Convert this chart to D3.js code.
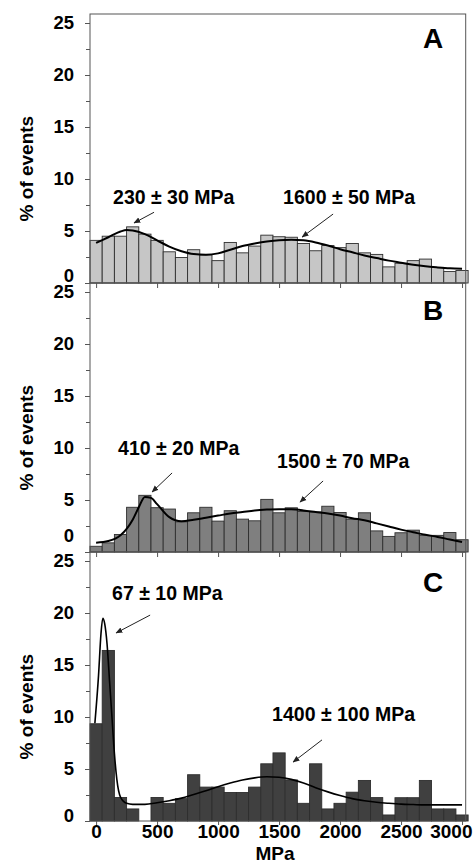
<!DOCTYPE html>
<html>
<head>
<meta charset="utf-8">
<script src="https://d3js.org/d3.v7.min.js"></script>
<style>
  body { margin: 0; background: #fff; }
  svg text { font-family: "Liberation Sans", Arial, sans-serif; font-weight: bold; fill: #000; }
</style>
</head>
<body>
<script>
// bin centres (MPa), one bar per 100 MPa
var binCenters = [0,100,200,300,400,500,600,700,800,900,1000,1100,1200,1300,1400,1500,
                  1600,1700,1800,1900,2000,2100,2200,2300,2400,2500,2600,2700,2800,2900,3000];

// % of events
var barsA = [4.1,4.5,4.5,5.4,4.7,4.1,3.0,2.45,3.2,2.7,2.15,3.9,2.9,3.55,4.6,4.45,
             4.4,3.8,3.1,3.6,3.4,3.8,2.9,2.75,1.55,1.9,2.15,2.3,1.5,1.1,1.2];
var barsB = [0.55,0.88,1.68,4.3,5.45,4.26,4.13,2.9,3.77,4.3,2.97,3.97,3.16,3.0,5.06,3.77,
             4.25,3.9,3.85,4.4,3.8,3.15,3.77,2.03,1.5,1.85,2.1,1.6,1.6,1.87,1.18];
var barsC = [9.35,16.4,2.26,1.16,0,2.26,1.7,2.15,4.45,3.26,3.26,2.74,2.74,3.26,5.5,6.55,
             3.95,1.7,5.5,1.16,1.7,2.77,3.9,2.25,0.58,2.24,2.24,3.9,1.16,1.16,0.58];

// fitted curves
var fitAx = [0,100,200,250,300,400,500,600,700,800,900,1000,1100,1200,1300,1400,1500,1600,
             1700,1800,1900,2000,2100,2200,2300,2400,2500,2600,2700,2800,2900,3000];
var fitAy = [3.85,4.4,4.95,5.1,5.05,4.7,4.1,3.5,3.05,2.78,2.72,2.85,3.2,3.55,3.8,4.0,4.12,4.15,
             4.1,3.9,3.6,3.25,2.95,2.65,2.4,2.15,1.95,1.75,1.6,1.5,1.42,1.38];
var fitBx = [0,100,200,300,350,400,450,500,600,700,800,900,1000,1100,1200,1300,1400,1500,1600,
             1700,1800,1900,2000,2100,2200,2300,2400,2500,2600,2700,2800,2900,3000];
var fitBy = [0.9,1.05,1.6,3.1,4.3,5.3,5.2,4.6,3.35,2.95,3.1,3.3,3.5,3.7,3.85,4.0,4.08,4.12,4.1,
             4.0,3.85,3.7,3.5,3.25,3.05,2.75,2.45,2.15,1.9,1.65,1.45,1.2,0.97];
var fitCx = [-10,20,40,55,70,90,110,130,150,170,200,250,300,400,500,600,700,800,900,1000,1100,
             1200,1300,1400,1500,1600,1700,1800,1900,2000,2100,2200,2300,2400,2500,2600,2700,
             2800,2900,3000];
var fitCy = [9.4,14.0,18.0,19.5,19.0,17.0,13.5,10.0,6.5,4.0,2.3,1.7,1.6,1.6,1.75,1.95,2.2,2.55,2.9,3.3,3.65,
             3.95,4.15,4.25,4.2,4.0,3.65,3.2,2.8,2.45,2.15,1.95,1.8,1.7,1.62,1.58,1.55,
             1.55,1.55,1.55];

var xTicks = [0,500,1000,1500,2000,2500,3000];
var yTicks = [0,5,10,15,20,25];
var yMinor = [2.5,7.5,12.5,17.5,22.5];
var panelLetters = ["A","B","C"];
var peakLabels = [
  ["230 \u00b1 30 MPa", "1600 \u00b1 50 MPa"],
  ["410 \u00b1 20 MPa", "1500 \u00b1 70 MPa"],
  ["67 \u00b1 10 MPa", "1400 \u00b1 100 MPa"]
];

var width = 473, height = 864;
var svg = d3.select("body").append("svg").attr("width", width).attr("height", height);

svg.append("defs").append("marker")
  .attr("id", "arr").attr("viewBox", "0 0 10 10").attr("refX", 9).attr("refY", 5)
  .attr("markerWidth", 7).attr("markerHeight", 7).attr("orient", "auto-start-reverse")
  .attr("markerUnits", "userSpaceOnUse")
  .append("path").attr("d", "M0,1 L10,5 L0,9 Z").attr("fill", "#222");

var x = d3.scaleLinear().domain([-50, 3030]).range([90, 465.7]);

// layout per panel: y of the 25 tick, bar colour, annotation anchors (data units)
var panels = [
  { top: 23, bars: barsA, fx: fitAx, fy: fitAy, fill: "#c6c6c6", zeroShift: -8, letterY: 48, lw: 2,
    notes: [ {tx: 139, ty: 7.6, a: [475, 6.8, 311, 5.77]}, {tx: 1533, ty: 7.6, a: [1943, 6.63, 1689, 4.42]} ] },
  { top: 292, bars: barsB, fx: fitBx, fy: fitBy, fill: "#7f7f7f", zeroShift: -17, letterY: 320, lw: 2,
    notes: [ {tx: 180, ty: 9.33, a: [623, 7.6, 459, 5.77]}, {tx: 1484, ty: 8.08, a: [1861, 6.83, 1672, 4.8]} ] },
  { top: 561, bars: barsC, fx: fitCx, fy: fitCy, fill: "#404040", zeroShift: -6, letterY: 592, lw: 1.6,
    notes: [ {tx: 131, ty: 21.25, a: [443, 19.8, 164, 18.08]}, {tx: 1443, ty: 9.6, a: [1852, 7.8, 1615, 5.67]} ] }
];

panels.forEach(function(p, i) {
  var y = d3.scaleLinear().domain([0, 25]).range([p.top + 260, p.top]);
  var g = svg.append("g");

  // bars
  g.selectAll("rect.bar").data(binCenters).enter().append("rect")
    .attr("class", "bar")
    .attr("x", function(d) { return x(d - 50); })
    .attr("width", function(d) { return x(d + 50) - x(d - 50); })
    .attr("y", function(d, j) { return y(p.bars[j]); })
    .attr("height", function(d, j) { return y(0) - y(p.bars[j]); })
    .attr("fill", p.fill).attr("stroke", "#2e2e2e").attr("stroke-width", 0.9);

  // fitted curve
  var pts = p.fx.map(function(v, j) { return [v, p.fy[j]]; });
  g.append("path").datum(pts)
    .attr("d", d3.line().x(function(d) { return x(d[0]); }).y(function(d) { return y(d[1]); })
      .curve(d3.curveMonotoneX))
    .attr("fill", "none").attr("stroke", "#000").attr("stroke-width", p.lw);

  // frame
  g.append("rect")
    .attr("x", x.range()[0]).attr("y", p.top - 9)
    .attr("width", x.range()[1] - x.range()[0]).attr("height", y(0) - p.top + 9)
    .attr("fill", "none").attr("stroke", "#555").attr("stroke-width", 1);

  // y axis
  var ya = g.append("g").attr("transform", "translate(" + x.range()[0] + ",0)")
    .call(d3.axisLeft(y).tickValues(yTicks).tickSize(5).tickPadding(11));
  ya.select(".domain").remove();
  ya.selectAll("line").attr("stroke", "#555");
  ya.selectAll("text").style("font-size", "18.5px")
    .attr("dy", function(d) { return d === 0 ? (p.zeroShift + 6) + "px" : "0.32em"; });
  var ym = g.append("g").attr("transform", "translate(" + x.range()[0] + ",0)")
    .call(d3.axisLeft(y).tickValues(yMinor).tickSize(4).tickFormat(""));
  ym.select(".domain").remove();
  ym.selectAll("line").attr("stroke", "#555");

  // x axis
  var xa = g.append("g").attr("transform", "translate(0," + y(0) + ")")
    .call(d3.axisBottom(x).tickValues(xTicks).tickSize(i === 2 ? 4 : 5).tickPadding(0)
      .tickFormat(i === 2 ? d3.format("d") : ""));
  xa.select(".domain").remove();
  xa.selectAll("line").attr("stroke", "#555");
  xa.selectAll("text").style("font-size", "19px");
  // last label squeezed in against the right edge, as in the original
  xa.selectAll("text").filter(function(d) { return d === 3000; })
    .attr("text-anchor", "end").attr("x", 472 - x(3000));

  // y title
  g.append("text")
    .attr("transform", "translate(33," + y(11) + ") rotate(-90)")
    .attr("text-anchor", "middle").style("font-size", "19px")
    .text("% of events");

  // panel letter
  g.append("text").attr("x", 433).attr("y", p.letterY).attr("text-anchor", "middle")
    .style("font-size", "28px").text(panelLetters[i]);

  // peak annotations
  p.notes.forEach(function(n, k) {
    g.append("text").attr("x", x(n.tx)).attr("y", y(n.ty))
      .style("font-size", "19.5px").text(peakLabels[i][k]);
    g.append("line")
      .attr("x1", x(n.a[0])).attr("y1", y(n.a[1]))
      .attr("x2", x(n.a[2])).attr("y2", y(n.a[3]))
      .attr("stroke", "#222").attr("stroke-width", 1)
      .attr("marker-end", "url(#arr)");
  });
});

svg.append("text").attr("x", 275).attr("y", 860).attr("text-anchor", "middle")
  .style("font-size", "19px").text("MPa");
</script>
</body>
</html>
